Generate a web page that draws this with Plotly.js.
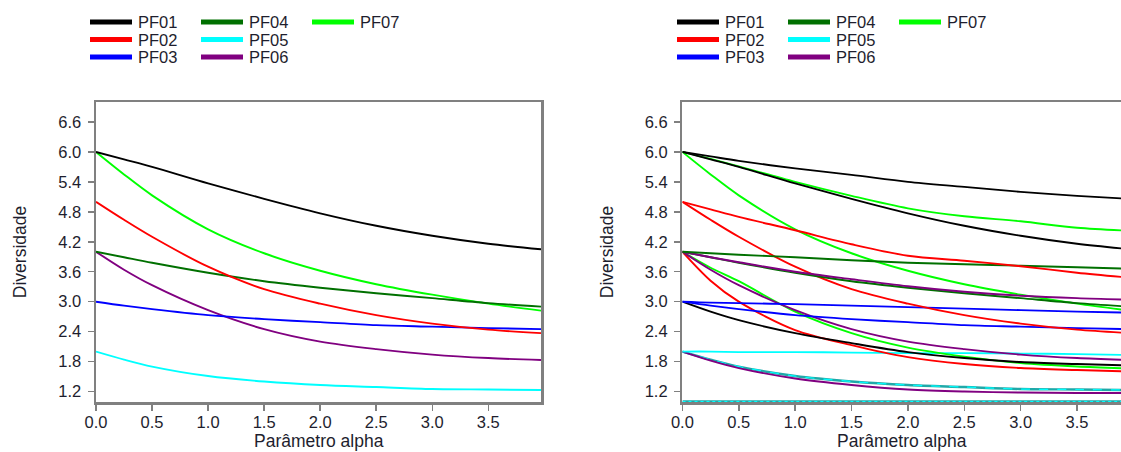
<!DOCTYPE html>
<html>
<head>
<meta charset="utf-8">
<script src="https://cdn.plot.ly/plotly-3.0.1.min.js"></script>
<style>html,body{margin:0;padding:0;background:#fff;}#chart{width:1121px;height:452px;}</style>
</head>
<body>
<div id="chart"></div>
<script>
// ---- data ----
const alpha = [0, 0.25, 0.5, 1.0, 1.5, 2.0, 2.5, 3.0, 3.5, 3.97];
const xTicks = [0, 0.5, 1.0, 1.5, 2.0, 2.5, 3.0, 3.5];
const yTicks = [1.2, 1.8, 2.4, 3.0, 3.6, 4.2, 4.8, 5.4, 6.0, 6.6];
const seriesNames = ['PF01', 'PF02', 'PF03', 'PF04', 'PF05', 'PF06', 'PF07'];
const seriesColors = ['#000000', '#ff0000', '#0000ff', '#007000', '#00ffff', '#800080', '#00ff00'];
const xTitle = 'Parâmetro alpha';
const yTitle = 'Diversidade';

// left panel curves
const pf01 = [6.0, 5.85, 5.70, 5.37, 5.06, 4.77, 4.52, 4.32, 4.16, 4.05];
const pf02 = [5.0, 4.64, 4.30, 3.70, 3.25, 2.96, 2.73, 2.56, 2.44, 2.37];
const pf03 = [3.0, 2.92, 2.85, 2.73, 2.65, 2.59, 2.53, 2.50, 2.47, 2.45];
const pf04 = [4.0, 3.89, 3.78, 3.58, 3.41, 3.28, 3.17, 3.07, 2.97, 2.90];
const pf05 = [2.0, 1.84, 1.70, 1.51, 1.40, 1.33, 1.29, 1.25, 1.24, 1.23];
const pf06 = [4.0, 3.64, 3.33, 2.83, 2.45, 2.20, 2.05, 1.94, 1.87, 1.83];
const pf07 = [6.0, 5.55, 5.13, 4.45, 3.97, 3.62, 3.35, 3.14, 2.96, 2.82];

// extra curves of the right panel
const pf01b = [6.0, 5.91, 5.82, 5.67, 5.54, 5.40, 5.30, 5.20, 5.12, 5.06];
const pf01c = [3.0, 2.80, 2.63, 2.37, 2.17, 1.99, 1.87, 1.79, 1.75, 1.72];
const pf02b = [5.0, 4.85, 4.70, 4.43, 4.15, 3.92, 3.82, 3.71, 3.58, 3.48];
const pf02c = [4.0, 3.42, 3.00, 2.43, 2.13, 1.89, 1.75, 1.67, 1.63, 1.60];
const pf03b = [3.0, 2.98, 2.97, 2.95, 2.92, 2.89, 2.86, 2.83, 2.80, 2.78];
const pf04b = [4.0, 3.97, 3.94, 3.89, 3.83, 3.78, 3.75, 3.72, 3.69, 3.66];
const pf05b = [2.0, 2.0, 1.99, 1.99, 1.98, 1.97, 1.97, 1.96, 1.95, 1.93];
const pf05c = [1.0, 1.0, 1.0, 1.0, 1.0, 1.0, 1.0, 1.0, 1.0, 1.0];
const pf06b = [4.0, 3.89, 3.79, 3.60, 3.45, 3.31, 3.20, 3.12, 3.07, 3.04];
const pf06c = [2.0, 1.82, 1.67, 1.46, 1.33, 1.24, 1.20, 1.18, 1.17, 1.17];
const pf07b = [6.0, 5.86, 5.71, 5.40, 5.12, 4.87, 4.71, 4.61, 4.48, 4.42];
const pf07c = [4.0, 3.68, 3.41, 2.80, 2.37, 2.08, 1.90, 1.77, 1.70, 1.66];

// ---- build traces ----
const W = 1121, H = 452;
const FONT = 'Liberation Sans, Arial, sans-serif';
const TEAL = '#1fa9a9';
const TEXT = '#1e1e2e';

function line(y, color, xa, ya, width, dash) {
  return {x: alpha, y: y, type: 'scatter', mode: 'lines', xaxis: xa, yaxis: ya,
    line: {color: color, width: width || 1.9, shape: 'spline', smoothing: 0.9, dash: dash || 'solid'},
    showlegend: false, hoverinfo: 'skip'};
}

const leftSeries = [pf01, pf02, pf03, pf04, pf05, pf06, pf07];
const traces = [];
// left: drawn in order PF07..PF01 so PF01 sits on top
[6, 5, 4, 3, 2, 1, 0].forEach(i => traces.push(line(leftSeries[i], seriesColors[i], 'x', 'y')));

// right panel
const C = seriesColors;
traces.push(line(pf05c, TEAL, 'x2', 'y2', 2.6));
traces.push(line(pf05c, C[4], 'x2', 'y2', 1.2, 'dot'));
traces.push(line(pf05, TEAL, 'x2', 'y2', 2.4));
traces.push(line(pf05, C[4], 'x2', 'y2', 1.2, 'dash'));
traces.push(line(pf06c, C[5], 'x2', 'y2'));
traces.push(line(pf05b, C[4], 'x2', 'y2'));
traces.push(line(pf02c, C[1], 'x2', 'y2'));
traces.push(line(pf07c, C[6], 'x2', 'y2'));
traces.push(line(pf01c, C[0], 'x2', 'y2'));
traces.push(line(pf06, C[5], 'x2', 'y2'));
traces.push(line(pf03, C[2], 'x2', 'y2'));
traces.push(line(pf03b, C[2], 'x2', 'y2'));
traces.push(line(pf02, C[1], 'x2', 'y2'));
traces.push(line(pf07, C[6], 'x2', 'y2'));
traces.push(line(pf04, C[3], 'x2', 'y2'));
traces.push(line(pf06b, C[5], 'x2', 'y2'));
traces.push(line(pf04b, C[3], 'x2', 'y2'));
traces.push(line(pf02b, C[1], 'x2', 'y2'));
traces.push(line(pf07b, C[6], 'x2', 'y2'));
traces.push(line(pf01, C[0], 'x2', 'y2'));
traces.push(line(pf01b, C[0], 'x2', 'y2'));

// ---- axes ----
const tickFont = {family: FONT, size: 16.5, color: TEXT};
const titleFont = {family: FONT, size: 17.5, color: TEXT};
function xAxis(domain, range, anchor) {
  return {domain: domain, range: range, anchor: anchor, tickvals: xTicks, tickformat: '.1f',
    showline: true, linecolor: '#808080', linewidth: 2.5, mirror: true,
    ticks: 'outside', ticklen: 6, tickwidth: 1.5, tickcolor: '#808080',
    showgrid: false, zeroline: false, tickfont: tickFont, ticklabelstandoff: -2};
}
function yAxis(domain, anchor, mirror) {
  return {domain: domain, range: [0.99, 7.0], anchor: anchor, tickvals: yTicks, tickformat: '.1f',
    showline: true, linecolor: '#808080', linewidth: 2.5, mirror: mirror,
    ticks: 'outside', ticklen: 6, tickwidth: 1.5, tickcolor: '#808080',
    showgrid: false, zeroline: false, tickfont: tickFont, ticklabelstandoff: 3,
    title: {text: yTitle, font: titleFont, standoff: 27}};
}
const yDom = [50 / H, 350 / H];
const xDomL = [96 / W, 541 / W], xDomR = [682.4 / W, 1.0];

// ---- legends (3 columns x 3 rows, column-major) and x titles ----
const shapes = [], annotations = [];
const colX = [90, 201, 312], rowY = [22, 39.5, 57], lineLen = 42;
[0, 587].forEach(off => {
  seriesNames.forEach((name, i) => {
    const c = Math.floor(i / 3), r = i % 3;
    const x0 = colX[c] + off, y0 = rowY[r];
    shapes.push({type: 'line', xref: 'paper', yref: 'paper',
      x0: x0 / W, x1: (x0 + lineLen) / W, y0: 1 - y0 / H, y1: 1 - y0 / H,
      line: {color: seriesColors[i], width: 5}});
    annotations.push({xref: 'paper', yref: 'paper', x: (x0 + lineLen + 4) / W, y: 1 - y0 / H,
      xanchor: 'left', yanchor: 'middle', showarrow: false, text: name,
      font: {family: FONT, size: 16.5, color: TEXT}});
  });
});
[xDomL, xDomR].forEach(d => {
  annotations.push({xref: 'paper', yref: 'paper', x: (d[0] + d[1]) / 2, y: 1 - 441 / H,
    xanchor: 'center', yanchor: 'middle', showarrow: false, text: xTitle,
    font: titleFont, borderpad: 0});
});

const layout = {
  width: W, height: H, margin: {l: 0, r: 0, t: 0, b: 0},
  paper_bgcolor: '#ffffff', plot_bgcolor: '#ffffff', showlegend: false,
  xaxis: xAxis(xDomL, [0, 3.97], 'y'),
  yaxis: yAxis(yDom, 'x', true),
  xaxis2: xAxis(xDomR, [0, 3.89], 'y2'),
  yaxis2: yAxis(yDom, 'x2', false),
  shapes: shapes, annotations: annotations
};

Plotly.newPlot('chart', traces, layout, {displayModeBar: false, staticPlot: true});
</script>
</body>
</html>
